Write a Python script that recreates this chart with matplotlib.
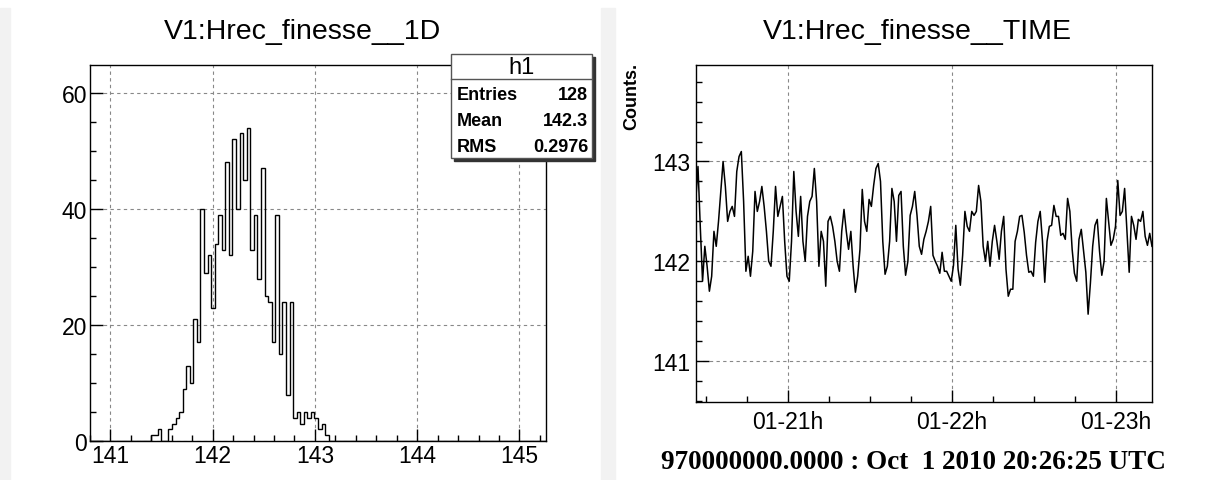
import numpy as np
import matplotlib
matplotlib.use('Agg')
import matplotlib.pyplot as plt
import matplotlib.dates as mdates
from matplotlib.patches import Rectangle
from matplotlib.lines import Line2D
from matplotlib.ticker import MultipleLocator
from datetime import datetime, timedelta

W, H = 1212, 481

# --- 1D histogram of the finesse (128 bins) ---
h_xmin, h_xmax, h_nbins = 140.8, 145.26, 128
h_first_bin = 17
h_counts = [1, 1, 2, 0, 0, 2, 3, 4, 5, 9, 13, 10, 21, 17, 40, 29, 32, 23, 34, 39,
            33, 48, 32, 52, 40, 53, 45, 54, 33, 39, 28, 47, 25, 24, 17, 39, 15, 24,
            8, 24, 4, 5, 3, 5, 4, 5, 4, 2, 3, 1]
stat_names = ['Entries', 'Mean', 'RMS']
stat_values = ['128', '142.3', '0.2976']

# --- finesse vs time, one sample every 50 s from the GPS offset ---
t_start = datetime(2010, 10, 1, 20, 26, 25)
t_step = 50
finesse = [
    142.60, 142.95, 142.35, 141.80, 142.15, 141.95, 141.70, 141.85, 142.30, 142.15,
    142.40, 142.70, 143.00, 142.75, 142.40, 142.50, 142.55, 142.45, 142.90, 143.05,
    143.10, 142.60, 141.90, 142.05, 141.85, 142.10, 142.70, 142.50, 142.60, 142.75,
    142.55, 142.30, 142.00, 141.95, 142.30, 142.75, 142.45, 142.55, 142.65, 142.20,
    141.85, 141.80, 142.20, 142.90, 142.50, 142.25, 142.65, 142.20, 142.00, 142.45,
    142.60, 142.65, 142.93, 142.60, 141.95, 142.30, 142.20, 141.75, 142.40, 142.45,
    142.35, 142.20, 142.00, 141.90, 142.30, 142.52, 142.30, 142.12, 142.30, 141.95,
    141.69, 141.85, 142.12, 142.72, 142.40, 142.30, 142.62, 142.55, 142.76, 142.93,
    142.98, 142.80, 142.20, 141.87, 141.95, 142.20, 142.73, 142.60, 142.20, 142.66,
    142.70, 142.15, 141.86, 142.00, 142.46, 142.55, 142.70, 142.46, 142.15, 142.07,
    142.22, 142.30, 142.40, 142.55, 142.06, 142.00, 141.95, 141.88, 142.09, 141.90,
    141.90, 141.85, 141.80, 141.96, 142.36, 141.92, 141.76, 142.06, 142.50, 142.35,
    142.30, 142.50, 142.46, 142.50, 142.76, 142.60, 142.15, 142.00, 142.20, 141.95,
    142.20, 142.36, 142.20, 142.02, 142.30, 142.45, 141.92, 141.65, 141.72, 141.72,
    142.20, 142.30, 142.45, 142.46, 142.29, 142.06, 141.89, 141.90, 141.85, 142.19,
    142.40, 142.50, 142.20, 141.79, 142.20, 142.35, 142.36, 142.56, 142.45, 142.45,
    142.26, 142.28, 142.22, 142.63, 142.50, 142.12, 141.88, 141.80, 142.22, 142.32,
    142.10, 141.89, 141.47, 141.78, 142.15, 142.36, 142.42, 142.10, 141.86, 142.00,
    142.63, 142.40, 142.16, 142.22, 142.35, 142.81, 142.46, 142.50, 142.73, 142.30,
    141.89, 142.45, 142.36, 142.22, 142.42, 142.40, 142.50, 142.25, 142.16, 142.28,
    142.15,
]
t_span = 10000

plt.rcParams['font.family'] = ['Liberation Sans', 'DejaVu Sans']


def fx(x):
    return x / W


def fy(y):
    return 1 - y / H


def style_axes(ax):
    for s in ax.spines.values():
        s.set_linewidth(1.0)
        s.set_color('black')
    ax.tick_params(which='both', direction='in', colors='black')
    ax.tick_params(which='major', length=9, width=1, labelsize=16.5)
    ax.tick_params(which='minor', length=4.5, width=1)
    ax.grid(True, which='major', color='#888888', lw=0.8, ls=(0, (3, 3)))
    ax.set_axisbelow(True)


fig = plt.figure(figsize=(W / 100, H / 100), dpi=100)

# light page strips beside each pad
for x0, x1 in [(0, 10), (601, 615)]:
    fig.patches.append(Rectangle((fx(x0), fy(481)), fx(x1) - fx(x0), fy(9) - fy(481),
                                 transform=fig.transFigure, color='#f2f2f2', zorder=0))

# ---------------- left pad: histogram ----------------
ax1 = fig.add_axes([fx(90), fy(442), fx(546) - fx(90), fy(66) - fy(442)])
edges = np.linspace(h_xmin, h_xmax, h_nbins + 1)
counts = np.zeros(h_nbins)
counts[h_first_bin:h_first_bin + len(h_counts)] = h_counts
ax1.stairs(counts, edges, color='black', lw=1.0)
ax1.set_xlim(h_xmin, h_xmax)
ax1.set_ylim(0, 64.8)
ax1.xaxis.set_major_locator(MultipleLocator(1))
ax1.xaxis.set_minor_locator(MultipleLocator(0.2))
ax1.yaxis.set_major_locator(MultipleLocator(20))
ax1.yaxis.set_minor_locator(MultipleLocator(5))
style_axes(ax1)
ax1.tick_params(axis='y', which='major', pad=2)
ax1.tick_params(axis='x', which='major', pad=2)
fig.text(fx(302), fy(32), 'V1:Hrec_finesse__1D', ha='center', va='center', fontsize=20.5)

# stats box
fig.patches.append(Rectangle((fx(454), fy(162)), fx(595) - fx(454), fy(58) - fy(162),
                             transform=fig.transFigure, color='#333333', zorder=5))
fig.patches.append(Rectangle((fx(451), fy(159)), fx(592) - fx(451), fy(55) - fy(159),
                             transform=fig.transFigure, facecolor='white',
                             edgecolor='#555555', lw=1, zorder=6))
fig.lines.append(Line2D([fx(451), fx(592)], [fy(80), fy(80)], transform=fig.transFigure,
                        color='#555555', lw=1, zorder=7))
fig.text(fx(522), fy(68), 'h1', ha='center', va='center', fontsize=17, zorder=8)
for i, (name, val) in enumerate(zip(stat_names, stat_values)):
    y = fy(96 + 25.5 * i)
    fig.text(fx(457), y, name, ha='left', va='center', fontsize=13, weight='bold', zorder=8)
    fig.text(fx(588), y, val, ha='right', va='center', fontsize=13, weight='bold', zorder=8)

# ---------------- right pad: time trend ----------------
ax2 = fig.add_axes([fx(695.7), fy(403), fx(1152) - fx(695.7), fy(65.7) - fy(403)])
times = [t_start + timedelta(seconds=t_step * k) for k in range(len(finesse))]
ax2.plot(times, finesse, color='black', lw=1.1)
ax2.set_xlim(t_start, t_start + timedelta(seconds=t_span))
ax2.set_ylim(140.59, 143.97)
ax2.xaxis.set_major_locator(mdates.HourLocator())
ax2.xaxis.set_major_formatter(mdates.DateFormatter('%d-%Hh'))
ax2.xaxis.set_minor_locator(mdates.MinuteLocator(byminute=[0, 15, 30, 45]))
ax2.yaxis.set_major_locator(MultipleLocator(1))
ax2.yaxis.set_minor_locator(MultipleLocator(0.2))
style_axes(ax2)
ax2.tick_params(axis='y', which='major', pad=4)
ax2.tick_params(axis='x', which='major', pad=6)
fig.text(fx(917), fy(32), 'V1:Hrec_finesse__TIME', ha='center', va='center', fontsize=20.5)
fig.text(fx(632), fy(63), 'Counts.', rotation=90, ha='center', va='top',
         fontsize=13, weight='bold')
fig.text(fx(913), fy(463), '970000000.0000 : Oct  1 2010 20:26:25 UTC',
         ha='center', va='center', fontsize=19.5, weight='bold',
         family=['Liberation Serif', 'DejaVu Serif'])

fig.savefig('out.png', dpi=100)
